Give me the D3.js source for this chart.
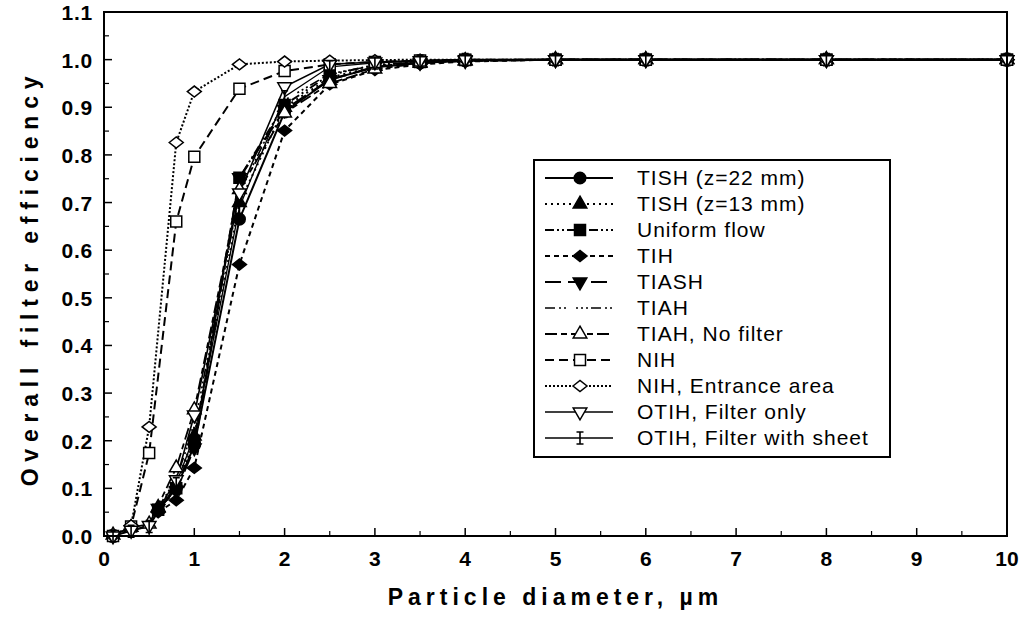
<!DOCTYPE html>
<html>
<head>
<meta charset="utf-8">
<script src="https://cdn.jsdelivr.net/npm/d3@7"></script>
<style>
  body { margin: 0; background: #fff; }
  svg { display: block; font-family: "Liberation Sans", Arial, Helvetica, sans-serif; }
</style>
</head>
<body>
<svg id="chart" width="1021" height="617"></svg>
<script>
// Particle diameters (µm) at which the efficiencies were evaluated
const diamFull = [0.1, 0.3, 0.5, 0.8, 1.0, 1.5, 2.0, 2.5, 3.0, 3.5, 4, 5, 6, 8, 10];
const diamFrom06 = [0.6, 0.8, 1.0, 1.5, 2.0, 2.5, 3.0, 3.5, 4, 5, 6, 8, 10];

// Overall filter efficiency for each configuration
const effTish22     = [0.055, 0.100, 0.190, 0.665, 0.890, 0.958, 0.984, 0.993, 0.998, 1.0, 1.0, 1.0, 1.0];
const effTish13     = [0.060, 0.110, 0.210, 0.700, 0.900, 0.962, 0.986, 0.994, 0.998, 1.0, 1.0, 1.0, 1.0];
const effUniform    = [0.055, 0.100, 0.200, 0.752, 0.905, 0.968, 0.989, 0.995, 0.999, 1.0, 1.0, 1.0, 1.0];
const effTih        = [0.050, 0.075, 0.143, 0.570, 0.851, 0.948, 0.978, 0.990, 0.996, 1.0, 1.0, 1.0, 1.0];
const effTiash      = [0.058, 0.095, 0.185, 0.752, 0.895, 0.958, 0.985, 0.994, 0.998, 1.0, 1.0, 1.0, 1.0];
const effTiah       = [0.060, 0.120, 0.230, 0.720, 0.915, 0.970, 0.988, 0.995, 0.999, 1.0, 1.0, 1.0, 1.0];
const effTiahNoFilt = [0.002, 0.018, 0.025, 0.143, 0.265, 0.727, 0.888, 0.950, 0.980, 0.992, 0.997, 1.0, 1.0, 1.0, 1.0];
const effNih        = [0.000, 0.020, 0.174, 0.660, 0.796, 0.939, 0.976, 0.990, 0.995, 0.998, 1.0, 1.0, 1.0, 1.0, 1.0];
const effNihEntr    = [0.000, 0.022, 0.229, 0.826, 0.933, 0.990, 0.996, 0.998, 0.999, 1.0, 1.0, 1.0, 1.0, 1.0, 1.0];
const effOtihFilter = [0.000, 0.012, 0.022, 0.118, 0.254, 0.720, 0.943, 0.990, 0.995, 0.998, 1.0, 1.0, 1.0, 1.0, 1.0];
const effOtihSheet  = [0.000, 0.010, 0.020, 0.110, 0.210, 0.690, 0.922, 0.985, 0.993, 0.997, 1.0, 1.0, 1.0, 1.0, 1.0];

// Axis ticks
const xTickValues = [0, 1, 2, 3, 4, 5, 6, 7, 8, 9, 10];
const yTickValues = [0.0, 0.1, 0.2, 0.3, 0.4, 0.5, 0.6, 0.7, 0.8, 0.9, 1.0, 1.1];

const seriesNames = [
  "TISH (z=22 mm)", "TISH (z=13 mm)", "Uniform flow", "TIH", "TIASH", "TIAH",
  "TIAH,  No filter", "NIH", "NIH, Entrance area", "OTIH, Filter only", "OTIH, Filter with sheet"
];

const series = [
  { name: seriesNames[0],  x: diamFrom06, y: effTish22,     dash: null,                       marker: "circle",   fill: true,  w: 2 },
  { name: seriesNames[1],  x: diamFrom06, y: effTish13,     dash: "2,4",                      marker: "triangle", fill: true,  w: 2 },
  { name: seriesNames[2],  x: diamFrom06, y: effUniform,    dash: "9,3,2,3,2,3",              marker: "square",   fill: true,  w: 2 },
  { name: seriesNames[3],  x: diamFrom06, y: effTih,        dash: "5,4",                      marker: "diamond",  fill: true,  w: 2 },
  { name: seriesNames[4],  x: diamFrom06, y: effTiash,      dash: "16,7",                     marker: "tridown",  fill: true,  w: 2.2 },
  { name: seriesNames[5],  x: diamFrom06, y: effTiah,       dash: "10,4,2,3,2,10,2,3,2,3,2,3", marker: null,      fill: false, w: 1.6 },
  { name: seriesNames[6],  x: diamFull,   y: effTiahNoFilt, dash: "12,4,6,4",                 marker: "triangle", fill: false, w: 1.8 },
  { name: seriesNames[7],  x: diamFull,   y: effNih,        dash: "9,5",                      marker: "square",   fill: false, w: 2 },
  { name: seriesNames[8],  x: diamFull,   y: effNihEntr,    dash: "2,2",                      marker: "diamond",  fill: false, w: 2 },
  { name: seriesNames[9],  x: diamFull,   y: effOtihFilter, dash: null,                       marker: "tridown",  fill: false, w: 1.6 },
  { name: seriesNames[10], x: diamFull,   y: effOtihSheet,  dash: null,                       marker: "ibeam",    fill: false, w: 1.3 }
];

const svg = d3.select("#chart");
const plot = { left: 104, right: 1007, top: 12, bottom: 536 };

const x = d3.scaleLinear().domain([0, 10]).range([plot.left, plot.right]);
const y = d3.scaleLinear().domain([0, 1.1]).range([plot.bottom, plot.top]);

// Marker shapes, centred on the origin
const symTri  = d3.symbol(d3.symbolTriangle, 80)();
const symCirc = d3.symbol(d3.symbolCircle, 105)();
const symSq   = d3.symbol(d3.symbolSquare, 121)();
function markerPath(type) {
  switch (type) {
    case "circle":   return symCirc;
    case "triangle": return symTri;
    case "tridown":  return symTri;
    case "square":   return symSq;
    case "diamond":  return "M-7,0L0,-5.5L7,0L0,5.5Z";
    case "ibeam":    return "M0,-6V6M-3.5,-6H3.5M-3.5,6H3.5";
  }
  return null;
}
function drawMarker(g, type, fill, cx, cy) {
  if (!type) return;
  g.append("path")
    .attr("d", markerPath(type))
    .attr("transform", `translate(${cx},${cy})` + (type === "tridown" ? " rotate(180)" : ""))
    .attr("fill", type === "ibeam" ? "none" : (fill ? "#000" : "#fff"))
    .attr("stroke", "#000")
    .attr("stroke-width", type === "ibeam" ? 1.6 : 1.5);
}

// Axis ticks (inward), major and minor
const axes = svg.append("g");
const xMinor = d3.range(0.5, 10, 1);
const yMinor = d3.range(0.05, 1.1, 0.1);
xTickValues.forEach(v => axes.append("line")
  .attr("x1", x(v)).attr("x2", x(v)).attr("y1", plot.bottom).attr("y2", plot.bottom - 8)
  .attr("stroke", "#000").attr("stroke-width", 1.5));
xMinor.forEach(v => axes.append("line")
  .attr("x1", x(v)).attr("x2", x(v)).attr("y1", plot.bottom).attr("y2", plot.bottom - 5)
  .attr("stroke", "#000").attr("stroke-width", 1.2));
yTickValues.forEach(v => axes.append("line")
  .attr("y1", y(v)).attr("y2", y(v)).attr("x1", plot.left).attr("x2", plot.left + 8)
  .attr("stroke", "#000").attr("stroke-width", 1.5));
yMinor.forEach(v => axes.append("line")
  .attr("y1", y(v)).attr("y2", y(v)).attr("x1", plot.left).attr("x2", plot.left + 5)
  .attr("stroke", "#000").attr("stroke-width", 1.2));

// Tick labels
axes.selectAll("text.xt").data(xTickValues).enter().append("text")
  .attr("x", d => x(d)).attr("y", 566)
  .attr("text-anchor", "middle")
  .attr("font-size", 21).attr("font-weight", "bold")
  .text(d => d3.format("d")(d));
axes.selectAll("text.yt").data(yTickValues).enter().append("text")
  .attr("x", 93).attr("y", d => y(d) + 8)
  .attr("text-anchor", "end")
  .attr("font-size", 21).attr("font-weight", "bold").attr("letter-spacing", 0.8)
  .text(d => d3.format(".1f")(d));

// Axis titles
svg.append("text")
  .attr("x", (plot.left + plot.right) / 2).attr("y", 605)
  .attr("text-anchor", "middle")
  .attr("font-size", 23).attr("font-weight", "bold").attr("letter-spacing", 5)
  .text("Particle diameter, µm");
svg.append("text")
  .attr("transform", `translate(38,${(plot.top + plot.bottom) / 2 + 4}) rotate(-90)`)
  .attr("text-anchor", "middle")
  .attr("font-size", 23).attr("font-weight", "bold").attr("letter-spacing", 6.8)
  .text("Overall filter efficiency");

// Curves
const line = d3.line().x(d => x(d[0])).y(d => y(d[1]));
const curves = svg.append("g");
series.forEach(s => {
  const pts = s.x.map((xv, i) => [xv, s.y[i]]);
  curves.append("path")
    .attr("d", line(pts))
    .attr("fill", "none")
    .attr("stroke", "#000")
    .attr("stroke-width", s.w)
    .attr("stroke-dasharray", s.dash);
});
series.forEach(s => {
  s.x.forEach((xv, i) => drawMarker(curves, s.marker, s.fill, x(xv), y(s.y[i])));
});

// Plot frame
svg.append("rect")
  .attr("x", plot.left).attr("y", plot.top)
  .attr("width", plot.right - plot.left).attr("height", plot.bottom - plot.top)
  .attr("fill", "none").attr("stroke", "#000").attr("stroke-width", 2);

// Legend
const lg = svg.append("g");
lg.append("rect")
  .attr("x", 534).attr("y", 160).attr("width", 356).attr("height", 297)
  .attr("fill", "#fff").attr("stroke", "#000").attr("stroke-width", 2);
series.forEach((s, i) => {
  const ry = 178 + i * 26;
  lg.append("line")
    .attr("x1", 545).attr("x2", 613).attr("y1", ry).attr("y2", ry)
    .attr("stroke", "#000").attr("stroke-width", s.w)
    .attr("stroke-dasharray", s.dash);
  drawMarker(lg, s.marker, s.fill, 580, ry);
  lg.append("text")
    .attr("x", 637).attr("y", ry + 7)
    .attr("font-size", 21).attr("letter-spacing", 1)
    .text(s.name);
});
</script>
</body>
</html>
